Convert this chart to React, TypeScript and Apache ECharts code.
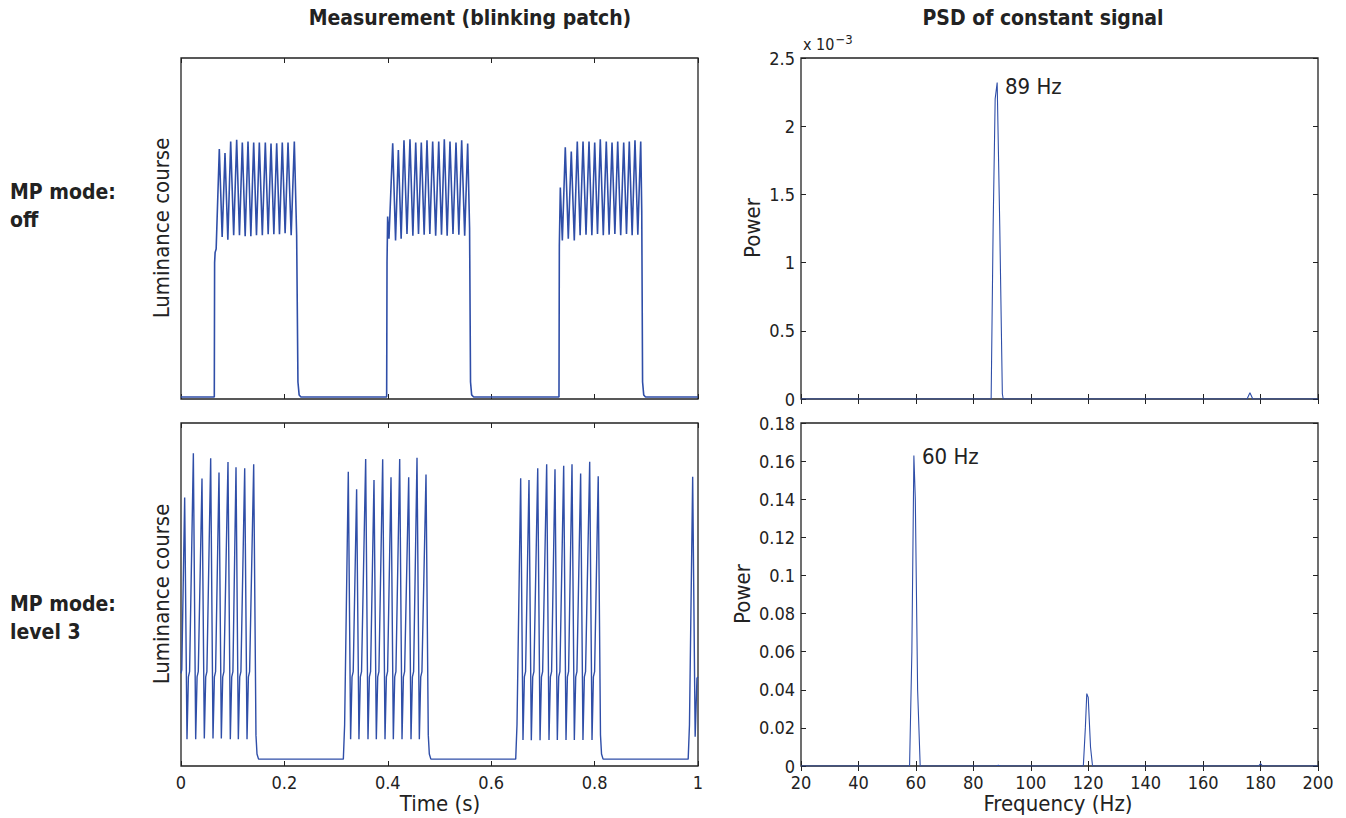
import { useEffect, useRef } from "react";
import * as echarts from "echarts";

// ---------- data ----------
// Top-left: luminance course, MP mode off (time s, relative luminance)
const offBurst1: [number, number][] = [
  [0.0, 0.006], [0.0644, 0.006], [0.065, 0.4], [0.066, 0.43], [0.068, 0.44],
  [0.0741, 0.733], [0.0796, 0.475], [0.0851, 0.721], [0.0906, 0.467], [0.0961, 0.755], [0.1019, 0.48],
  [0.1077, 0.76], [0.1131, 0.48], [0.1186, 0.752], [0.1241, 0.477], [0.1296, 0.755], [0.1351, 0.477],
  [0.1406, 0.752], [0.146, 0.48], [0.1515, 0.752], [0.1573, 0.48], [0.1631, 0.752], [0.1686, 0.483],
  [0.1741, 0.749], [0.1796, 0.483], [0.1851, 0.75], [0.1905, 0.483], [0.1959, 0.752], [0.2014, 0.486],
  [0.207, 0.752], [0.2131, 0.48], [0.2192, 0.755], [0.2237, 0.48], [0.2262, 0.05], [0.2285, 0.012], [0.232, 0.006],
];
const offBurst2: [number, number][] = [
  [0.3978, 0.006], [0.3985, 0.4], [0.3997, 0.535], [0.4023, 0.47],
  [0.4095, 0.75], [0.415, 0.465], [0.4204, 0.73], [0.4258, 0.47], [0.4313, 0.759], [0.4371, 0.484],
  [0.4429, 0.762], [0.4485, 0.479], [0.454, 0.752], [0.4594, 0.484], [0.4648, 0.752], [0.4703, 0.482],
  [0.4758, 0.759], [0.4813, 0.484], [0.4868, 0.755], [0.4926, 0.479], [0.4985, 0.755], [0.5039, 0.482],
  [0.5093, 0.762], [0.5148, 0.479], [0.5203, 0.755], [0.5261, 0.484], [0.5319, 0.752], [0.5374, 0.482],
  [0.5429, 0.759], [0.5487, 0.479], [0.5545, 0.749], [0.5582, 0.5], [0.56, 0.05], [0.5622, 0.012], [0.566, 0.006],
];
const offBurst3: [number, number][] = [
  [0.7311, 0.006], [0.7318, 0.45], [0.7337, 0.62], [0.7376, 0.465],
  [0.7433, 0.738], [0.7491, 0.47], [0.7549, 0.726], [0.7607, 0.465], [0.7665, 0.755], [0.772, 0.48],
  [0.7776, 0.755], [0.7834, 0.482], [0.7892, 0.755], [0.7947, 0.48], [0.8002, 0.752], [0.8056, 0.484],
  [0.811, 0.762], [0.8168, 0.48], [0.8226, 0.755], [0.8281, 0.482], [0.8337, 0.752], [0.8392, 0.484],
  [0.8447, 0.755], [0.8505, 0.48], [0.8563, 0.752], [0.8617, 0.484], [0.8671, 0.755], [0.8726, 0.48],
  [0.8781, 0.759], [0.8836, 0.482], [0.8892, 0.755], [0.8912, 0.55], [0.8928, 0.05], [0.895, 0.012],
  [0.8985, 0.006], [1.0, 0.006],
];

// Bottom-left: luminance course, MP mode level 3
const lvlBurst1: [number, number][] = [
  [0.0, 0.27], [0.0015, 0.28], [0.0071, 0.783], [0.0116, 0.078], [0.0143, 0.26], [0.0166, 0.275],
  [0.0239, 0.912], [0.0284, 0.078], [0.0311, 0.26], [0.0334, 0.275],
  [0.0406, 0.838], [0.0451, 0.08], [0.0478, 0.26], [0.0501, 0.275],
  [0.0574, 0.897], [0.0619, 0.08], [0.0646, 0.26], [0.0669, 0.275],
  [0.0735, 0.856], [0.078, 0.08], [0.0807, 0.26], [0.083, 0.275],
  [0.0909, 0.886], [0.0954, 0.078], [0.0981, 0.26], [0.1004, 0.275],
  [0.1064, 0.871], [0.1109, 0.078], [0.1136, 0.26], [0.1159, 0.275],
  [0.1232, 0.868], [0.1277, 0.078], [0.1304, 0.26], [0.1327, 0.275],
  [0.1406, 0.88], [0.145, 0.09], [0.147, 0.035], [0.15, 0.02], [0.314, 0.02],
];
const lvlBurst2: [number, number][] = [
  [0.3165, 0.12], [0.3236, 0.858], [0.3281, 0.078], [0.3308, 0.26], [0.3331, 0.275],
  [0.3397, 0.807], [0.3442, 0.078], [0.3469, 0.26], [0.3492, 0.275],
  [0.3572, 0.895], [0.3617, 0.078], [0.3644, 0.26], [0.3667, 0.275],
  [0.3733, 0.834], [0.3778, 0.078], [0.3805, 0.26], [0.3828, 0.275],
  [0.3901, 0.894], [0.3946, 0.078], [0.3973, 0.26], [0.3996, 0.275],
  [0.4062, 0.842], [0.4107, 0.078], [0.4134, 0.26], [0.4157, 0.275],
  [0.423, 0.895], [0.4275, 0.078], [0.4302, 0.26], [0.4325, 0.275],
  [0.4404, 0.842], [0.4449, 0.078], [0.4476, 0.26], [0.4499, 0.275],
  [0.4565, 0.899], [0.461, 0.078], [0.4637, 0.26], [0.466, 0.275],
  [0.4739, 0.85], [0.4783, 0.09], [0.4803, 0.035], [0.4833, 0.02], [0.6474, 0.02],
];
const lvlBurst3: [number, number][] = [
  [0.6499, 0.12], [0.657, 0.839], [0.6615, 0.076], [0.6642, 0.26], [0.6665, 0.275],
  [0.6731, 0.834], [0.6776, 0.075], [0.6803, 0.26], [0.6826, 0.275],
  [0.69, 0.868], [0.6945, 0.075], [0.6972, 0.26], [0.6995, 0.275],
  [0.7073, 0.88], [0.7118, 0.076], [0.7145, 0.26], [0.7168, 0.275],
  [0.7234, 0.865], [0.7279, 0.076], [0.7306, 0.26], [0.7329, 0.275],
  [0.7402, 0.875], [0.7447, 0.076], [0.7474, 0.26], [0.7497, 0.275],
  [0.7563, 0.88], [0.7608, 0.076], [0.7635, 0.26], [0.7658, 0.275],
  [0.773, 0.853], [0.7775, 0.076], [0.7802, 0.26], [0.7825, 0.275],
  [0.7905, 0.887], [0.795, 0.076], [0.7977, 0.26], [0.8, 0.275],
  [0.807, 0.845], [0.8114, 0.09], [0.8134, 0.035], [0.8164, 0.02], [0.981, 0.02],
];
const lvlBurst4: [number, number][] = [
  [0.9835, 0.12], [0.9897, 0.843], [0.9945, 0.085], [0.998, 0.256], [1.0, 0.26],
];

// Top-right: PSD, MP mode off (Hz, power)
const psdOff: [number, number][] = [
  [20, 0], [86.2, 0], [86.9, 0.00127], [87.6, 0.0022], [88.3, 0.00232], [89.2, 0.00127],
  [90.1, 0.00004], [90.4, 0], [175.3, 0], [176.3, 0.000046], [177.3, 0], [200, 0],
];
// Bottom-right: PSD, MP mode level 3
const psdLvl: [number, number][] = [
  [20, 0], [57.8, 0], [58.6, 0.06], [59.3, 0.163], [59.8, 0.14], [60.6, 0.04], [61.5, 0],
  [88, 0], [88.7, 0.0004], [89.4, 0], [118.3, 0], [119.0, 0.02], [119.5, 0.038], [120.0, 0.036],
  [120.8, 0.01], [121.5, 0], [179.3, 0], [180, 0.0012], [180.7, 0], [200, 0],
];

const timeRange = [0, 1];
const timeStep = 0.2;
const freqRange = [20, 200];
const freqStep = 20;
const powerOffRange = [0, 0.0025];
const powerOffStep = 0.0005;
const powerLvlRange = [0, 0.18];
const powerLvlStep = 0.02;

const peakLabels = ["89 Hz", "60 Hz"];
const colTitles = ["Measurement (blinking patch)", "PSD of constant signal"];
const rowLabels = [["MP mode:", "off"], ["MP mode:", "level 3"]];

// ---------- styles ----------
const BLUE = "#2f4ea8";
const INK = "#222222";
const COND = "'DejaVu Sans Condensed', 'DejaVu Sans', sans-serif";
const NARROW = "'Liberation Sans Narrow', 'DejaVu Sans Condensed', sans-serif";

const G = [
  { left: 181, top: 58, width: 517, height: 341 },
  { left: 181, top: 423, width: 517, height: 343 },
  { left: 801, top: 58, width: 517, height: 341 },
  { left: 801, top: 423, width: 517, height: 343 },
];

const fmt = (v: number) => String(parseFloat(v.toFixed(6)));

function xAx(grid: number, range: number[], step: number, pos: "top" | "bottom", labels: boolean) {
  return {
    type: "value",
    gridIndex: grid,
    position: pos,
    min: range[0],
    max: range[1],
    interval: step,
    axisLine: { show: false },
    axisTick: { show: true, inside: true, length: 5, lineStyle: { color: INK, width: 1 } },
    axisLabel: {
      show: labels,
      margin: 7,
      color: INK,
      fontSize: 18,
      fontFamily: NARROW,
      formatter: fmt,
    },
    splitLine: { show: false },
  };
}

function yAx(grid: number, range: number[], step: number, pos: "left" | "right", ticks: boolean, labels: boolean, scale = 1) {
  return {
    type: "value",
    gridIndex: grid,
    position: pos,
    min: range[0],
    max: range[1],
    interval: step,
    axisLine: { show: false },
    axisTick: { show: ticks, inside: true, length: 5, lineStyle: { color: INK, width: 1 } },
    axisLabel: {
      show: labels,
      margin: 6,
      color: INK,
      fontSize: 18,
      fontFamily: NARROW,
      formatter: (v: number) => fmt(v * scale),
    },
    splitLine: { show: false },
  };
}

function txt(text: string, x: number, y: number, opts: any = {}) {
  return {
    type: "text",
    x,
    y,
    rotation: opts.rotation || 0,
    z: 100,
    style: {
      text,
      fill: INK,
      fontSize: opts.fontSize || 22,
      fontFamily: opts.fontFamily || COND,
      fontWeight: opts.fontWeight || "normal",
      align: opts.align || "center",
      verticalAlign: "middle",
      rich: opts.rich,
    },
  };
}

export default function App() {
  const ref = useRef<HTMLDivElement>(null);
  useEffect(() => {
    if (!ref.current) return;
    const chart = echarts.init(ref.current, undefined, { renderer: "svg" });
    const lumOff = [...offBurst1, ...offBurst2, ...offBurst3];
    const lumLvl = [...lvlBurst1, ...lvlBurst2, ...lvlBurst3, ...lvlBurst4];
    chart.setOption({
      animation: false,
      backgroundColor: "#ffffff",
      grid: G.map((g) => ({ ...g, show: true, borderColor: INK, borderWidth: 1.3, backgroundColor: "transparent" })),
      xAxis: [
        xAx(0, timeRange, timeStep, "bottom", false),
        xAx(0, timeRange, timeStep, "top", false),
        xAx(1, timeRange, timeStep, "bottom", true),
        xAx(1, timeRange, timeStep, "top", false),
        xAx(2, freqRange, freqStep, "bottom", false),
        xAx(2, freqRange, freqStep, "top", false),
        xAx(3, freqRange, freqStep, "bottom", true),
        xAx(3, freqRange, freqStep, "top", false),
      ],
      yAxis: [
        yAx(0, [0, 1], 1, "left", false, false),
        yAx(1, [0, 1], 1, "left", false, false),
        yAx(2, powerOffRange, powerOffStep, "left", true, true, 1000),
        yAx(2, powerOffRange, powerOffStep, "right", true, false),
        yAx(3, powerLvlRange, powerLvlStep, "left", true, true),
        yAx(3, powerLvlRange, powerLvlStep, "right", true, false),
      ],
      series: [
        { type: "line", xAxisIndex: 0, yAxisIndex: 0, data: lumOff, showSymbol: false, lineStyle: { color: BLUE, width: 1.6 }, z: 5 },
        { type: "line", xAxisIndex: 2, yAxisIndex: 1, data: lumLvl, showSymbol: false, lineStyle: { color: BLUE, width: 1.4 }, z: 5 },
        { type: "line", xAxisIndex: 4, yAxisIndex: 2, data: psdOff, showSymbol: false, lineStyle: { color: BLUE, width: 1.1 }, z: 5 },
        { type: "line", xAxisIndex: 6, yAxisIndex: 4, data: psdLvl, showSymbol: false, lineStyle: { color: BLUE, width: 1.1 }, z: 5 },
      ],
      graphic: [
        txt(colTitles[0], 470, 18, { fontWeight: "bold", fontSize: 21 }),
        txt(colTitles[1], 1043, 18, { fontWeight: "bold", fontSize: 21 }),
        txt(rowLabels[0][0], 10, 192, { fontWeight: "bold", fontSize: 21, align: "left" }),
        txt(rowLabels[0][1], 10, 220, { fontWeight: "bold", fontSize: 21, align: "left" }),
        txt(rowLabels[1][0], 10, 604, { fontWeight: "bold", fontSize: 21, align: "left" }),
        txt(rowLabels[1][1], 10, 632, { fontWeight: "bold", fontSize: 21, align: "left" }),
        txt("Luminance course", 161, 228, { rotation: Math.PI / 2 }),
        txt("Luminance course", 161, 594, { rotation: Math.PI / 2 }),
        txt("Power", 752, 228, { rotation: Math.PI / 2 }),
        txt("Power", 742, 594, { rotation: Math.PI / 2 }),
        txt("Time (s)", 440, 803),
        txt("Frequency (Hz)", 1058, 803),
        txt(peakLabels[0], 1005, 86, { align: "left" }),
        txt(peakLabels[1], 922, 456, { align: "left" }),
        txt("{a|x 10}{b|−3}", 803, 44, {
          align: "left",
          fontSize: 16,
          rich: {
            a: { fontSize: 16, fontFamily: COND, color: INK },
            b: { fontSize: 13, fontFamily: COND, color: INK, verticalAlign: "top", padding: [0, 0, 10, 1] },
          },
        }),
      ],
    });
    return () => chart.dispose();
  }, []);
  return <div ref={ref} style={{ position: "fixed", left: 0, top: 0, width: 1346, height: 818 }} />;
}
